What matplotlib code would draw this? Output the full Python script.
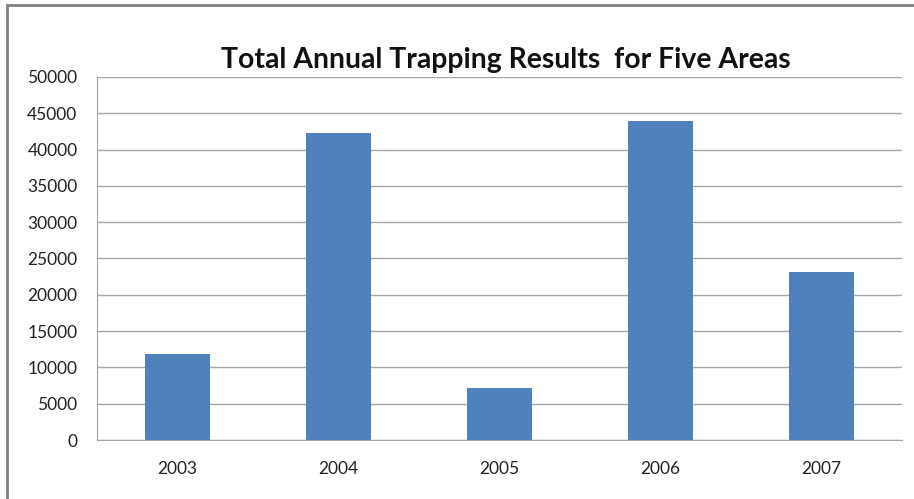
import matplotlib.pyplot as plt
from matplotlib.patches import Rectangle

years = ["2003", "2004", "2005", "2006", "2007"]
totals = [11850, 42300, 7150, 43900, 23080]
yticks = [0, 5000, 10000, 15000, 20000, 25000, 30000, 35000, 40000, 45000, 50000]

plt.rcParams["font.family"] = ["Lato", "DejaVu Sans"]

fig = plt.figure(figsize=(9.14, 4.99), dpi=100)
ax = fig.add_axes([0.106, 0.118, 0.881, 0.728])

# outer chart frame (only top and left edges visible in the original)
fig.patches.append(Rectangle((0.0077, -0.05), 1.1, 1.04, transform=fig.transFigure,
                             fill=False, edgecolor="#808080", linewidth=2.0))

ax.bar(range(len(years)), totals, width=0.4, color="#4F81BD", zorder=3)

ax.set_xlim(-0.5, len(years) - 0.5)
ax.set_ylim(0, 50000)
ax.set_yticks(yticks)
ax.set_yticklabels([str(v) for v in yticks], fontsize=12.5)
ax.set_xticks(range(len(years)))
ax.set_xticklabels(years, fontsize=12.5)
ax.tick_params(axis="both", length=0, colors="#222222")
ax.tick_params(axis="x", pad=15)
ax.tick_params(axis="y", pad=14)

ax.grid(axis="y", color="#a6a6a6", linewidth=1.0, zorder=0)
for side in ["top", "right"]:
    ax.spines[side].set_visible(False)
ax.spines["left"].set_color("#a6a6a6")
ax.spines["bottom"].set_color("#a6a6a6")

fig.text(0.553, 0.88, "Total Annual Trapping Results  for Five Areas",
         ha="center", va="center", fontsize=20.4, fontweight="bold", color="#111111")

fig.savefig("out.png", dpi=100)
